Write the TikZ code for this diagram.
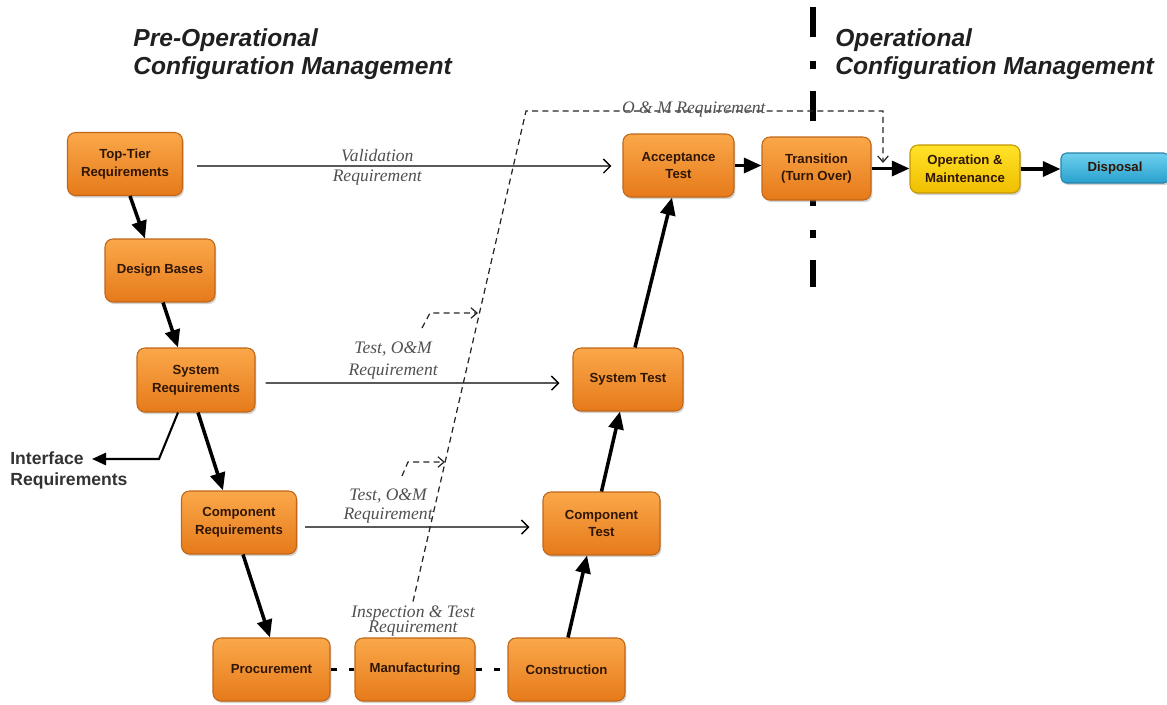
\documentclass[tikz,border=0pt]{standalone}
\usepackage{fontspec}
\setmainfont{Liberation Serif}
\setsansfont{Liberation Sans}
\usepackage{xcolor}
\usetikzlibrary{arrows.meta, positioning, shadows}

\definecolor{boxtop}{RGB}{250,168,74}
\definecolor{boxbot}{RGB}{230,122,26}
\definecolor{boxedge}{RGB}{192,102,24}
\definecolor{boxtext}{RGB}{48,22,4}
\definecolor{yeltop}{RGB}{255,226,40}
\definecolor{yelbot}{RGB}{240,190,0}
\definecolor{yeledge}{RGB}{196,150,0}
\definecolor{disptop}{RGB}{110,208,238}
\definecolor{dispbot}{RGB}{40,160,205}
\definecolor{dispedge}{RGB}{40,130,170}
\definecolor{labelgrey}{RGB}{80,80,80}
\definecolor{titlegrey}{RGB}{32,32,32}

\tikzset{
  stage/.style={rounded corners=4.5pt, draw=boxedge, line width=0.6pt,
    top color=boxtop, bottom color=boxbot, text=boxtext,
    drop shadow={opacity=0.35, shadow xshift=0.8pt, shadow yshift=-1.2pt},
    minimum width=2.3cm, minimum height=1.26cm, align=center,
    font=\sffamily\bfseries\fontsize{7.5}{10}\selectfont},
  flow/.style={line width=2pt, -{Triangle[length=10pt,width=8.5pt]}},
  req/.style={line width=0.8pt, -{Straight Barb[length=4pt,width=8pt]}},
  feed/.style={line width=0.7pt, draw=black!85, dash pattern=on 3.4pt off 2.4pt},
  feedtip/.style={feed, -{Straight Barb[length=3.5pt,width=6pt]}},
  link/.style={line width=1.8pt, dash pattern=on 3.5pt off 7pt},
  reqlabel/.style={font=\itshape\fontsize{10}{12}\selectfont, text=labelgrey, align=center, inner sep=2pt},
  phase/.style={font=\sffamily\bfseries\itshape\fontsize{14}{16.4}\selectfont, text=titlegrey, align=left, inner sep=0pt, anchor=north west}
}

\begin{document}
\begin{tikzpicture}[x=0.02cm, y=-0.02cm]
  \clip (0,0) rectangle (1167,704);

  % phase divider
  \draw[line width=3.4pt, dash pattern=on 17pt off 14pt on 4.5pt off 12.5pt] (813,7) -- (813,287);

  \node[phase] (preop) at (133,28) {Pre-Operational\\Configuration Management};
  \node[phase] (op) at (835,28) {Operational\\Configuration Management};

  % left leg
  \node[stage] (toptier) at (125,164) {Top-Tier\\Requirements};
  \node[stage, minimum width=2.2cm] (design) at (160,270.5) {Design Bases};
  \node[stage, minimum width=2.36cm, minimum height=1.28cm] (sysreq) at (196,380) {System\\Requirements};
  \node[stage] (compreq) at (239,522.5) {Component\\Requirements};

  % bottom
  \node[stage, minimum width=2.34cm] (procure) at (271.5,669.5) {Procurement};
  \node[stage, minimum width=2.4cm] (manuf) at (415,669.5) {Manufacturing};
  \node[stage, minimum width=2.34cm] (construct) at (566.5,669.5) {Construction};

  % right leg
  \node[stage, minimum width=2.34cm] (comptest) at (601.5,523.5) {Component\\Test};
  \node[stage, minimum width=2.2cm] (systest) at (628,379.5) {System Test};
  \node[stage, minimum width=2.22cm] (accept) at (678.5,165.5) {Acceptance\\Test};
  \node[stage, minimum width=2.18cm] (transit) at (816.5,168.5) {Transition\\(Turn Over)};
  \node[stage, top color=yeltop, bottom color=yelbot, draw=yeledge,
        minimum width=2.2cm, minimum height=0.96cm] (opmaint) at (965,169) {Operation \&\\Maintenance};
  \node[stage, top color=disptop, bottom color=dispbot, draw=dispedge,
        minimum width=2.16cm, minimum height=0.6cm, rounded corners=3pt] (disposal) at (1115,168) {Disposal};

  \node[font=\sffamily\bfseries\fontsize{10}{12}\selectfont, text=black!80, align=left,
        inner sep=0pt, anchor=north west] (iface) at (10,451) {Interface\\Requirements};
  \node[reqlabel] (insp) at (413,621) {Inspection \& Test\\[-3pt]Requirement};

  \coordinate (iftip) at (92,459);
  \coordinate (ifknee) at (159,459);
  \coordinate (feedlow) at (526,111);
  \coordinate (feedhigh) at (883,111);
  \coordinate (feedend) at (883,163);
  \coordinate (sidetail) at (422,328);
  \coordinate (sideknee) at (430,313);
  \coordinate (sidetip) at (478,313);
  \coordinate (lowtail) at (402,476);
  \coordinate (lowknee) at (408,462);
  \coordinate (lowtip) at (445,462);

  % flow down and up the V
  \draw[flow] ([xshift=0.1cm]toptier.south) -- ([xshift=-0.3cm]design.north);
  \draw[flow] ([xshift=0.06cm]design.south) -- ([xshift=-0.36cm]sysreq.north);
  \draw[flow] ([xshift=0.04cm]sysreq.south) -- ([xshift=-0.32cm]compreq.north);
  \draw[flow] ([xshift=0.08cm]compreq.south) -- ([xshift=-0.03cm]procure.north);
  \draw[link] (procure) -- (manuf);
  \draw[link] (manuf) -- (construct);
  \draw[flow] ([xshift=0.03cm]construct.north) -- ([xshift=-0.29cm]comptest.south);
  \draw[flow] (comptest.north) -- ([xshift=-0.16cm]systest.south);
  \draw[flow] ([xshift=0.14cm]systest.north) -- ([xshift=-0.13cm]accept.south);
  \draw[flow] (accept.east) -- (accept.east -| transit.west);
  \draw[flow] (transit.east) -- (transit.east -| opmaint.west);
  \draw[flow] (opmaint.east) -- (opmaint.east -| disposal.west);
  \draw[line width=1.2pt, -{Triangle[length=8pt,width=7pt]}] ([xshift=-0.36cm]sysreq.south) -- (ifknee) -- (iftip);

  % requirement arrows
  \draw[req] ([xshift=0.28cm, yshift=-0.04cm]toptier.east) -- ([xshift=-0.22cm, yshift=-0.01cm]accept.west)
    node[reqlabel, pos=0.435, above] {Validation}
    node[reqlabel, pos=0.435, below] {Requirement};
  \draw[req] ([xshift=0.2cm, yshift=-0.06cm]sysreq.east) -- ([xshift=-0.26cm, yshift=-0.07cm]systest.west)
    node[reqlabel, pos=0.434, above] {Test, O\&M\\Requirement};
  \draw[req] ([xshift=0.16cm, yshift=-0.09cm]compreq.east) -- ([xshift=-0.26cm, yshift=-0.07cm]comptest.west)
    node[reqlabel, pos=0.37, above] {Test, O\&M\\[-1.5pt]Requirement};

  % O&M feed
  \draw[feedtip] (insp.north) -- (feedlow) -- (feedhigh)
    node[reqlabel, pos=0.47, anchor=base, inner sep=0pt, yshift=-1.5pt] {O \& M Requirement}
    -- (feedend);
  \draw[feedtip] (sidetail) -- (sideknee) -- (sidetip);
  \draw[feedtip] (lowtail) -- (lowknee) -- (lowtip);
\end{tikzpicture}
\end{document}
